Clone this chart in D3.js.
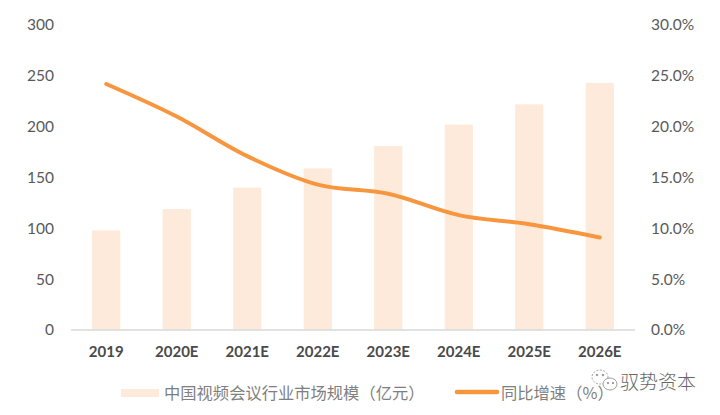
<!DOCTYPE html>
<html>
<head>
<meta charset="utf-8">
<script src="https://cdn.jsdelivr.net/npm/d3@7/dist/d3.min.js"></script>
<style>
  body { margin: 0; background: #fff; }
  svg { display: block; }
</style>
</head>
<body>
<svg id="chart" width="720" height="415"></svg>
<script>
const categories = ["2019", "2020E", "2021E", "2022E", "2023E", "2024E", "2025E", "2026E"];
const marketSize = [98, 119, 140, 159, 181, 202, 222, 243];
const growthRate = [24.2, 21.0, 17.1, 14.3, 13.4, 11.3, 10.4, 9.1];
const leftTicks = [0, 50, 100, 150, 200, 250, 300];
const rightTicks = [0, 5, 10, 15, 20, 25, 30];
const barLabel = "中国视频会议行业市场规模（亿元）";
const lineLabel = "同比增速（%）";
const watermark = "驭势资本";

const svg = d3.select("#chart");
const m = { left: 71, right: 635, top: 25, bottom: 330 };
const barColor = "#FDEADA";
const lineColor = "#F7963F";
const textColor = "#595959";
const numFont = "Lato, 'Open Sans', sans-serif";
const cjkFont = "'Noto Sans CJK SC', sans-serif";

const x = d3.scaleBand().domain(categories).range([m.left, m.right]).paddingInner(0.6).paddingOuter(0.3);
const yL = d3.scaleLinear().domain([0, 300]).range([m.bottom, m.top]);
const yR = d3.scaleLinear().domain([0, 30]).range([m.bottom, m.top]);

// bars
svg.append("g").selectAll("rect").data(categories).join("rect")
  .attr("x", d => x(d))
  .attr("width", x.bandwidth())
  .attr("y", (d, i) => yL(marketSize[i]))
  .attr("height", (d, i) => yL(0) - yL(marketSize[i]))
  .attr("fill", barColor);

// baseline axis
const xAxis = svg.append("g").attr("transform", `translate(0,${m.bottom})`)
  .call(d3.axisBottom(x).tickSize(0).tickPadding(16));
xAxis.select(".domain").attr("stroke", "#D9D9D9").attr("stroke-width", 1.5)
  .attr("d", `M${m.left},0H${m.right}`);
xAxis.selectAll("text").attr("fill", "#4a4a4a").attr("font-family", numFont)
  .attr("font-size", 15).attr("font-weight", "bold");

// left axis
const lAxis = svg.append("g").attr("transform", `translate(54,0)`)
  .call(d3.axisLeft(yL).tickValues(leftTicks).tickSize(0).tickPadding(0));
lAxis.select(".domain").remove();
lAxis.selectAll("text").attr("fill", textColor).attr("font-family", numFont).attr("font-size", 15.5);

// right axis
const rAxis = svg.append("g").attr("transform", `translate(651,0)`)
  .call(d3.axisRight(yR).tickValues(rightTicks).tickSize(0).tickPadding(0).tickFormat(d => d.toFixed(1) + "%"));
rAxis.select(".domain").remove();
rAxis.selectAll("text").attr("fill", textColor).attr("font-family", numFont).attr("font-size", 15.5);

// line
const line = d3.line()
  .x((d, i) => x(categories[i]) + x.bandwidth() / 2)
  .y(d => yR(d))
  .curve(d3.curveCatmullRom.alpha(0.5));
svg.append("path").datum(growthRate)
  .attr("d", line)
  .attr("fill", "none")
  .attr("stroke", lineColor)
  .attr("stroke-width", 4)
  .attr("stroke-linecap", "round");

// legend
const lg = svg.append("g");
lg.append("rect").attr("x", 121).attr("y", 389).attr("width", 38).attr("height", 8).attr("fill", barColor);
lg.append("text").attr("x", 164).attr("y", 393).attr("dy", "0.35em")
  .attr("font-family", cjkFont).attr("font-size", 16.3).attr("fill", "#7F7F7F").text(barLabel);
lg.append("line").attr("x1", 457).attr("x2", 497).attr("y1", 392).attr("y2", 392)
  .attr("stroke", lineColor).attr("stroke-width", 4.5).attr("stroke-linecap", "round");
lg.append("text").attr("x", 501).attr("y", 393).attr("dy", "0.35em")
  .attr("font-family", cjkFont).attr("font-size", 16.3).attr("fill", "#7F7F7F").text(lineLabel);

// watermark
const wm = svg.append("g").attr("fill", "none").attr("stroke", "#888").attr("stroke-width", 0.8);
wm.append("ellipse").attr("cx", 600).attr("cy", 377).attr("rx", 8).attr("ry", 7).attr("stroke-dasharray", "2,1.5");
wm.append("ellipse").attr("cx", 610).attr("cy", 384).attr("rx", 7).attr("ry", 6).attr("fill", "#fff");
wm.append("circle").attr("cx", 597).attr("cy", 375).attr("r", 0.8).attr("fill", "#888");
wm.append("circle").attr("cx", 603).attr("cy", 375).attr("r", 0.8).attr("fill", "#888");
wm.append("circle").attr("cx", 608).attr("cy", 383).attr("r", 0.7).attr("fill", "#888");
wm.append("circle").attr("cx", 613).attr("cy", 383).attr("r", 0.7).attr("fill", "#888");
svg.append("text").attr("x", 620).attr("y", 382).attr("dy", "0.35em")
  .attr("font-family", cjkFont).attr("font-size", 19).attr("font-weight", 300)
  .attr("fill", "#666").text(watermark);
</script>
</body>
</html>
